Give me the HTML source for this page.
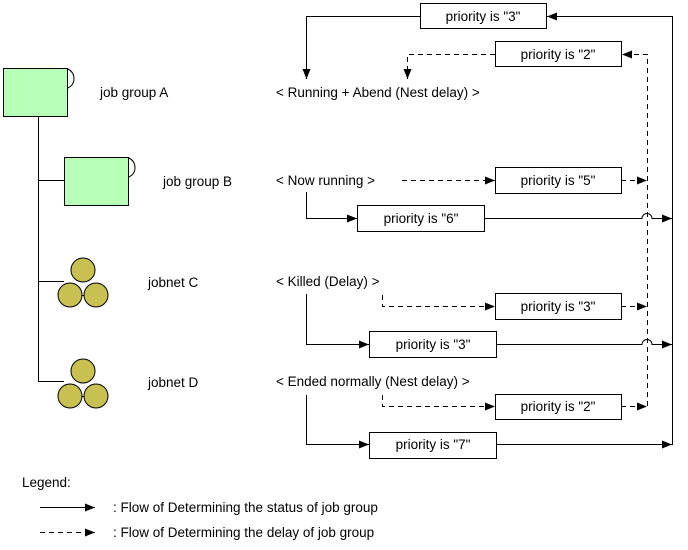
<!DOCTYPE html>
<html><head><style>body{margin:0;background:#fff}svg{display:block}text{font-family:"Liberation Sans",sans-serif;font-size:13.5px;fill:#000}</style></head><body>
<svg width="688" height="550" viewBox="0 0 688 550" xmlns="http://www.w3.org/2000/svg">
<defs><marker id="a" markerWidth="10" markerHeight="8" refX="10" refY="4" orient="auto" markerUnits="userSpaceOnUse"><path d="M0,0 L10,4 L0,8 z" fill="#000"/></marker></defs>
<g fill="none" stroke="#000" stroke-width="1">
<rect x="3.5" y="68.5" width="64" height="48" fill="#b8ffb8"/>
<path d="M68,69 Q74,72 74,79 Q74,85 68,88"/>
<rect x="64.5" y="157.5" width="64" height="48" fill="#b8ffb8"/>
<path d="M129,158 Q135,161 135,168 Q135,174 129,177"/>
<path d="M38.5,117 V381.5 M38,180.5 H64 M38,281.5 H64 M38,381.5 H64"/>
<g fill="#c8c050">
<circle cx="83" cy="270" r="12"/><circle cx="70" cy="295" r="12"/><circle cx="96" cy="295" r="12"/>
<circle cx="83" cy="371" r="12"/><circle cx="70" cy="396" r="12"/><circle cx="96" cy="396" r="12"/>
</g>
<path d="M82,295.5 H84 M82,396.5 H84"/>
<rect x="420.5" y="3.5" width="126" height="25"/>
<rect x="495.5" y="41.5" width="126" height="25"/>
<rect x="495.5" y="167.5" width="126" height="26"/>
<rect x="357.5" y="205.5" width="127" height="26"/>
<rect x="495.5" y="293.5" width="126" height="26"/>
<rect x="369.5" y="331.5" width="127" height="26"/>
<rect x="495.5" y="394.5" width="126" height="25"/>
<rect x="369.5" y="432.5" width="127" height="26"/>
<path d="M672.5,445 V16.5 H547" marker-end="url(#a)"/>
<path d="M420,16.5 H306.5 V79" marker-end="url(#a)"/>
<path d="M306.5,192 V218.5 H357" marker-end="url(#a)"/>
<path d="M484,218.5 H642 A5,5 0 0 1 652,218.5 H672" marker-end="url(#a)"/>
<path d="M306.5,294 V344.5 H369" marker-end="url(#a)"/>
<path d="M496,344.5 H642 A5,5 0 0 1 652,344.5 H672" marker-end="url(#a)"/>
<path d="M306.5,395 V444.5 H369" marker-end="url(#a)"/>
<path d="M496,444.5 H672" marker-end="url(#a)"/>
<g stroke-dasharray="5,4">
<path d="M647.5,406 V54.5 H622" marker-end="url(#a)"/>
<path d="M495,54.5 H407.5 V79" marker-end="url(#a)"/>
<path d="M402,180.5 H495" marker-end="url(#a)"/>
<path d="M621,180.5 H647" marker-end="url(#a)"/>
<path d="M382.5,295 V306.5 H495" marker-end="url(#a)"/>
<path d="M621,306.5 H647" marker-end="url(#a)"/>
<path d="M382.5,395 V406.5 H495" marker-end="url(#a)"/>
<path d="M621,406.5 H647" marker-end="url(#a)"/>
<path d="M40,532.5 H95" marker-end="url(#a)"/>
</g>
<path d="M40,507.5 H95" marker-end="url(#a)"/>
</g>
<g text-anchor="middle">
<text x="483" y="21">priority is "3"</text>
<text x="558" y="59">priority is "2"</text>
<text x="558" y="185">priority is "5"</text>
<text x="421" y="223">priority is "6"</text>
<text x="558" y="311">priority is "3"</text>
<text x="433" y="349">priority is "3"</text>
<text x="558" y="411">priority is "2"</text>
<text x="433" y="449">priority is "7"</text>
</g>
<text x="100" y="97">job group A</text>
<text x="163" y="186">job group B</text>
<text x="148" y="287">jobnet C</text>
<text x="148" y="387">jobnet D</text>
<text x="276" y="97">&lt; Running + Abend (Nest delay) &gt;</text>
<text x="276" y="185">&lt; Now running &gt;</text>
<text x="276" y="286">&lt; Killed (Delay) &gt;</text>
<text x="276" y="386">&lt; Ended normally (Nest delay) &gt;</text>
<text x="22" y="487">Legend:</text>
<text x="113" y="512">: Flow of Determining the status of job group</text>
<text x="113" y="537">: Flow of Determining the delay of job group</text>
</svg>
</body></html>
